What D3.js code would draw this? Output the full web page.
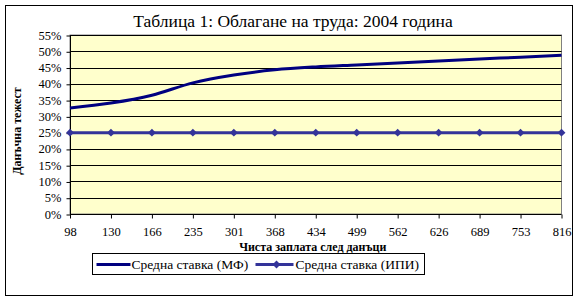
<!DOCTYPE html>
<html>
<head>
<meta charset="utf-8">
<script src="https://cdn.jsdelivr.net/npm/d3@7"></script>
<style>
  body { margin: 0; background: #fff; }
  svg { display: block; }
  svg text { font-family: "Liberation Serif", "DejaVu Serif", serif; }
</style>
</head>
<body>
<svg id="chart" width="578" height="301"></svg>
<script>
// categories: net wage after taxes
const categories = ['98', '130', '166', '235', '301', '368', '434', '499', '562', '626', '689', '753', '816']
// average rate (MF)
const mfValues = [0.326, 0.341, 0.365, 0.403, 0.427, 0.443, 0.452, 0.458, 0.464, 0.47, 0.476, 0.482, 0.488]
// average rate (IPI)
const ipiValues = [0.25, 0.25, 0.25, 0.25, 0.25, 0.25, 0.25, 0.25, 0.25, 0.25, 0.25, 0.25, 0.25]
const yTicks = [0, 0.05, 0.1, 0.15, 0.2, 0.25, 0.3, 0.35, 0.4, 0.45, 0.5, 0.55]
const seriesNames = ['Средна ставка (МФ)', 'Средна ставка (ИПИ)']

const svg = d3.select('#chart')
const margin = { left: 70, right: 578 - 561.5, top: 35, bottom: 301 - 214 }
const plotW = 578 - margin.left - margin.right
const plotH = 301 - margin.top - margin.bottom

// outer frame
svg.append('rect')
  .attr('x', 5.5).attr('y', 5.5)
  .attr('width', 567).attr('height', 290)
  .attr('fill', '#fff')
  .attr('stroke', '#000')
  .attr('stroke-width', 1)

svg.append('text')
  .attr('x', 293).attr('y', 27)
  .attr('text-anchor', 'middle')
  .attr('font-size', 17.5)
  .text('Таблица 1: Облагане на труда: 2004 година')

const g = svg.append('g').attr('transform', `translate(${margin.left},${margin.top})`)

const x = d3.scalePoint().domain(categories).range([0, plotW])
const y = d3.scaleLinear().domain([0, 0.55]).range([plotH, 0])

g.append('rect')
  .attr('width', plotW).attr('height', plotH)
  .attr('fill', '#ffffcc')
  .attr('stroke', '#808080')
  .attr('stroke-width', 1)

// gridlines
g.append('g')
  .selectAll('line')
  .data(yTicks.slice(1))
  .join('line')
  .attr('x1', 0).attr('x2', plotW)
  .attr('y1', d => Math.round(y(d)) + 0.5).attr('y2', d => Math.round(y(d)) + 0.5)
  .attr('stroke', '#000')
  .attr('stroke-width', 1)

const yAxis = g.append('g')
  .attr('transform', 'translate(0.5,0)')
  .call(d3.axisLeft(y).tickValues(yTicks).tickFormat(d3.format('.0%')).tickSize(4).tickPadding(5))
  .attr('font-family', null).attr('font-size', 12.5)
yAxis.select('.domain').attr('d', `M0,0V${plotH}`)
yAxis.selectAll('.tick line').attr('transform', 'translate(0,0.5)')
yAxis.selectAll('text').attr('fill', '#000')

const xAxis = g.append('g')
  .attr('transform', `translate(0,${plotH + 0.5})`)
  .call(d3.axisBottom(x).tickSize(4).tickPadding(9))
  .attr('font-family', null).attr('font-size', 12.5)
xAxis.select('.domain').attr('d', `M0,0H${plotW}`)
xAxis.selectAll('text').attr('fill', '#000')

svg.append('text')
  .attr('x', margin.left + plotW / 2 - 3).attr('y', 251)
  .attr('text-anchor', 'middle')
  .attr('font-size', 12)
  .attr('font-weight', 'bold')
  .text('Чиста заплата след данъци')

svg.append('text')
  .attr('transform', 'translate(21,131) rotate(-90)')
  .attr('text-anchor', 'middle')
  .attr('font-size', 12)
  .attr('font-weight', 'bold')
  .text('Данъчна тежест')

const line = d3.line()
  .x((d, i) => x(categories[i]))
  .y(d => y(d))

g.append('path')
  .attr('d', line.curve(d3.curveMonotoneX)(mfValues))
  .attr('fill', 'none')
  .attr('stroke', '#000080')
  .attr('stroke-width', 3)

g.append('path')
  .attr('d', line.curve(d3.curveLinear)(ipiValues))
  .attr('fill', 'none')
  .attr('stroke', '#333399')
  .attr('stroke-width', 3)

const diamond = d3.symbol().type(d3.symbolDiamond2).size(40)
g.append('g')
  .selectAll('path')
  .data(ipiValues)
  .join('path')
  .attr('transform', (d, i) => `translate(${x(categories[i])},${y(d)})`)
  .attr('d', diamond)
  .attr('fill', '#333399')

// legend
const lg = svg.append('g').attr('transform', 'translate(92.5,253.5)')
lg.append('rect')
  .attr('width', 332).attr('height', 21)
  .attr('fill', '#fff')
  .attr('stroke', '#000')
lg.append('line')
  .attr('x1', 4).attr('x2', 38).attr('y1', 11).attr('y2', 11)
  .attr('stroke', '#000080').attr('stroke-width', 3)
lg.append('text')
  .attr('x', 39).attr('y', 15.5)
  .attr('font-size', 13.5)
  .text(seriesNames[0])
lg.append('line')
  .attr('x1', 163).attr('x2', 201).attr('y1', 11).attr('y2', 11)
  .attr('stroke', '#333399').attr('stroke-width', 3)
lg.append('path')
  .attr('transform', 'translate(184,11)')
  .attr('d', diamond)
  .attr('fill', '#333399')
lg.append('text')
  .attr('x', 203).attr('y', 15.5)
  .attr('font-size', 13.5)
  .text(seriesNames[1])
</script>
</body>
</html>
